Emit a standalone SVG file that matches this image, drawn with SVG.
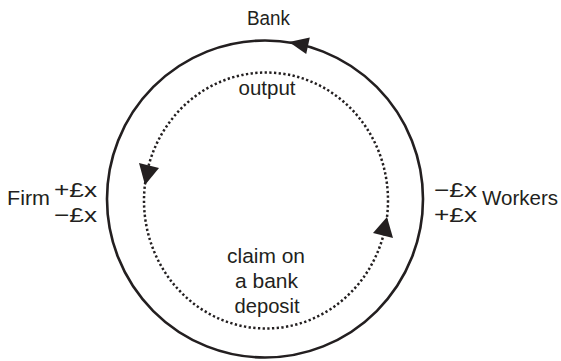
<svg xmlns="http://www.w3.org/2000/svg" width="561" height="361" viewBox="0 0 561 361">
<style>
.t{font-family:"Liberation Sans",Arial,sans-serif;font-size:20.5px;fill:#231f20}
.c{text-anchor:middle}
.outer{fill:none;stroke:#231f20;stroke-width:2.6}
.inner{fill:none;stroke:#231f20;stroke-width:2.5;stroke-dasharray:2.3 2.4}
.ah{fill:#231f20;stroke:none}
</style>
<rect width="561" height="361" fill="#fff"/>
<g id="connectors">
<ellipse class="outer" cx="265" cy="199" rx="158" ry="158.5"/>
<polygon class="ah" points="289,42 309.8,37.5 306.2,54"/>
<ellipse class="inner" cx="266" cy="200.5" rx="122" ry="128"/>
<polygon class="ah" points="145,185 139,163 159,168"/>
<polygon class="ah" points="387,217 373,233 393,238"/>
</g>
<g id="bank"><text class="t c" x="268.5" y="25" textLength="43" lengthAdjust="spacingAndGlyphs">Bank</text></g>
<g id="output"><text class="t c" x="267" y="95" textLength="57" lengthAdjust="spacingAndGlyphs">output</text></g>
<g id="claim">
<text class="t c" x="266" y="263" textLength="78" lengthAdjust="spacingAndGlyphs">claim on</text>
<text class="t c" x="266.5" y="288" textLength="63" lengthAdjust="spacingAndGlyphs">a bank</text>
<text class="t c" x="267" y="313" textLength="65" lengthAdjust="spacingAndGlyphs">deposit</text>
</g>
<g id="firm">
<text class="t" x="7" y="205" textLength="43" lengthAdjust="spacingAndGlyphs">Firm</text>
<text class="t" x="54" y="197" textLength="43" lengthAdjust="spacingAndGlyphs">+£x</text>
<text class="t" x="54" y="222" textLength="43" lengthAdjust="spacingAndGlyphs">−£x</text>
</g>
<g id="workers">
<text class="t" x="434" y="197" textLength="43" lengthAdjust="spacingAndGlyphs">−£x</text>
<text class="t" x="434" y="222" textLength="43" lengthAdjust="spacingAndGlyphs">+£x</text>
<text class="t" x="482" y="205" textLength="76" lengthAdjust="spacingAndGlyphs">Workers</text>
</g>
</svg>
